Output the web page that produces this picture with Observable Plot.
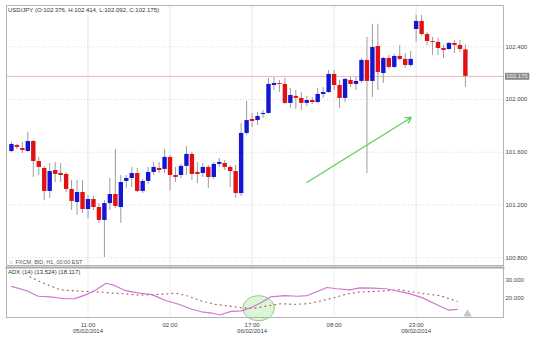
<!DOCTYPE html>
<html><head><meta charset="utf-8">
<script src="https://cdn.jsdelivr.net/npm/d3@7"></script>
<script src="https://cdn.jsdelivr.net/npm/@observablehq/plot@0.6"></script>
<style>
body{margin:0;background:#fff;}
#chart{width:533px;height:341px;overflow:hidden;background:#fff}
svg{display:block}
</style></head><body><div id="chart"></div>
<script>
// ---- data ----
const opens=[101.605,101.651,101.628,101.605,101.681,101.529,101.476,101.302,101.461,101.438,101.431,101.317,101.218,101.294,101.165,101.241,101.180,101.082,101.210,101.279,101.180,101.378,101.400,101.438,101.302,101.378,101.446,101.476,101.469,101.560,101.423,101.423,101.492,101.583,101.446,101.438,101.484,101.408,101.507,101.514,101.484,101.453,101.286,101.742,101.848,101.840,101.886,101.894,102.106,102.121,102.114,101.970,102.023,102.008,101.970,101.992,101.977,102.038,102.053,102.190,102.106,102.008,102.144,102.114,102.137,102.296,102.137,102.402,102.197,102.311,102.243,102.326,102.304,102.258,102.531,102.592,102.493,102.440,102.433,102.387,102.379,102.425,102.410,102.376];
const highs=[101.674,101.658,101.674,101.750,101.689,101.560,101.492,101.514,101.522,101.514,101.446,101.385,101.385,101.385,101.271,101.264,101.210,101.233,101.400,101.620,101.423,101.423,101.484,101.476,101.393,101.484,101.522,101.522,101.620,101.575,101.484,101.507,101.643,101.598,101.522,101.514,101.499,101.522,101.552,101.537,101.499,101.499,101.818,101.985,101.894,101.901,101.916,102.159,102.167,102.144,102.159,102.084,102.068,102.053,102.023,102.015,102.084,102.091,102.220,102.220,102.144,102.159,102.167,102.167,102.311,102.471,102.569,102.569,102.319,102.334,102.342,102.410,102.349,102.364,102.638,102.638,102.508,102.471,102.463,102.410,102.433,102.448,102.448,102.414];
const lows=[101.598,101.620,101.590,101.598,101.408,101.423,101.233,101.249,101.370,101.370,101.294,101.158,101.120,101.135,101.097,101.158,101.059,100.801,101.158,101.173,101.059,101.324,101.332,101.294,101.286,101.355,101.423,101.438,101.438,101.309,101.370,101.400,101.423,101.385,101.362,101.408,101.324,101.393,101.484,101.461,101.332,101.249,101.264,101.727,101.788,101.803,101.856,101.886,102.068,102.053,101.962,101.932,101.924,101.916,101.947,101.962,101.970,102.008,102.046,102.068,101.932,101.977,102.091,102.068,102.121,101.438,102.015,102.068,102.121,102.228,102.235,102.296,102.235,102.243,102.433,102.478,102.410,102.334,102.334,102.311,102.372,102.349,102.357,102.092];
const closes=[101.658,101.636,101.613,101.681,101.529,101.484,101.302,101.453,101.431,101.423,101.317,101.226,101.294,101.165,101.241,101.180,101.082,101.210,101.279,101.188,101.370,101.400,101.438,101.302,101.378,101.446,101.484,101.461,101.560,101.423,101.408,101.492,101.583,101.431,101.431,101.484,101.408,101.507,101.522,101.484,101.453,101.286,101.742,101.840,101.833,101.871,101.894,102.114,102.121,102.114,101.970,102.030,102.008,101.970,101.992,101.977,102.038,102.053,102.190,102.106,102.008,102.152,102.114,102.137,102.296,102.137,102.395,102.205,102.311,102.243,102.326,102.304,102.258,102.304,102.592,102.493,102.440,102.433,102.387,102.372,102.425,102.410,102.379,102.175];

const timeTicks=[14,29,44,59,74];
const timeLabels=["11:00\n05/02/2014","02:00","17:00\n06/02/2014","08:00","23:00\n09/02/2014"];
const priceTicks=[100.8,101.2,101.6,102.0,102.4];

const adxIdx=[0,2.8,4.9,7.1,9.8,11.6,13.7,15.5,17.3,18.5,20.9,23.3,25.7,28.2,30.6,33.0,34.8,36.6,38.1,40.2,42.0,43.8,45.6,47.4,49.9,52.3,54.1,55.9,57.7,59.5,61.9,63.7,66.1,68.5,70.3,72.8,75.2,77.6,80.0,81.5];
const adxVal=[26.4,24.0,20.9,20.5,19.5,19.6,21.8,24.5,28.2,27.3,24.0,22.7,21.8,18.5,16.4,13.6,12.2,11.5,10.4,12.4,12.7,14.5,17.3,20.5,21.3,20.9,21.3,23.6,25.8,25.1,24.5,25.6,25.5,25.1,24.0,22.4,20.0,16.4,13.1,13.524];
const sigIdx=[3.4,5.2,7.1,8.9,11.3,13.7,16.1,18.5,20.9,23.3,25.7,28.2,30.0,32.4,34.8,37.2,39.6,42.0,44.4,46.8,49.2,51.7,54.1,56.5,58.9,61.3,63.7,66.1,68.5,70.9,73.4,75.8,78.2,81.5];
const sigVal=[31.8,29.1,26.7,24.5,24.0,23.6,23.3,22.7,22.2,21.5,21.8,22.2,22.7,20.9,18.2,16.4,15.5,14.5,14.2,15.5,16.7,16.4,16.7,18.2,20.0,22.2,23.3,23.6,24.0,24.5,23.3,22.2,21.3,18.117];
const adxTicks=[20,30];

const arrowFrom=[54,101.37];
const arrowTo=[73.1,101.863];
const ellipseAt=[45.2,14.2];
const triangleAt=[83.4,10.9];

// ---- build ----
const fmt=d3.format(".3f");
const candles=opens.map((o,i)=>({i,o,h:highs[i],l:lows[i],c:closes[i]}));
const last=candles[candles.length-1];
const title=`USD/JPY (O:${fmt(last.o)}, H:${fmt(last.h)}, L:${fmt(last.l)}, C:${fmt(last.c)})`;
const adxPts=adxIdx.map((x,k)=>({x,y:adxVal[k]}));
const sigPts=sigIdx.map((x,k)=>({x,y:sigVal[k]}));
const adxTitle=`ADX (14) (${fmt(adxVal[adxVal.length-1])}) (${fmt(sigVal[sigVal.length-1])})`;
const font="'Liberation Sans', Arial, sans-serif";
const xDom=[-0.9,89.97];

const ellipseSymbol={draw(ctx,size){const r=Math.sqrt(size/Math.PI),rx=r*1.25,ry=r,k=0.5523;
 ctx.moveTo(rx,0);ctx.bezierCurveTo(rx,ry*k,rx*k,ry,0,ry);ctx.bezierCurveTo(-rx*k,ry,-rx,ry*k,-rx,0);
 ctx.bezierCurveTo(-rx,-ry*k,-rx*k,-ry,0,-ry);ctx.bezierCurveTo(rx*k,-ry,rx,-ry*k,rx,0);ctx.closePath();}};

const main=Plot.plot({
  width:533,height:266,marginLeft:6,marginRight:30,marginTop:5,marginBottom:1,
  style:{fontFamily:font,fontSize:"6px",color:"#444",background:"#fff",overflow:"visible"},
  x:{domain:xDom,axis:null,label:null},
  y:{domain:[100.74,102.713],axis:null,label:null},
  color:{type:"identity"},
  marks:[
    Plot.ruleY(priceTicks,{stroke:"#d8d8d8",strokeDasharray:"1,2"}),
    Plot.ruleX(timeTicks,{stroke:"#e6e6e6"}),
    Plot.ruleY([last.c],{stroke:"#ecb8b8"}),
    Plot.ruleX(candles,{x:"i",y1:"l",y2:"h",stroke:"#9c9c9c",strokeWidth:1}),
    Plot.ruleX(candles,{x:"i",y1:"o",y2:"c",stroke:d=>d.c>=d.o?"#1515d6":"#e21111",strokeWidth:4.4}),
    Plot.arrow([{a:arrowFrom,b:arrowTo}],{x1:d=>d.a[0],y1:d=>d.a[1],x2:d=>d.b[0],y2:d=>d.b[1],stroke:"#5fcf57",strokeWidth:1.3,headLength:7}),
    Plot.axisY(priceTicks,{anchor:"right",tickSize:0,tickPadding:2,tickFormat:fmt,fill:"#444"}),
    Plot.text([last.c],{y:d=>d,text:d=>fmt(d),frameAnchor:"right",dx:2.5,textAnchor:"start",fill:"#f2f2f2"}),
    Plot.text([title],{frameAnchor:"top-left",dx:1.5,dy:2,fill:"#333"}),
    Plot.text(["▹"],{frameAnchor:"bottom-left",dx:3,dy:-1.5,fill:"#aaa"}),
    Plot.text(["FXCM, BID, H1, 00:00 EST"],{frameAnchor:"bottom-left",dx:9,dy:-1.5,fill:"#555",fontSize:5.5}),
    Plot.frame({stroke:"#b4b4b4"})
  ]
});

const adx=Plot.plot({
  width:533,height:75,marginLeft:6,marginRight:30,marginTop:1,marginBottom:24,
  style:{fontFamily:font,fontSize:"6px",color:"#444",background:"#fff",overflow:"visible",position:"relative",zIndex:"2"},
  x:{domain:xDom,axis:null,label:null},
  y:{domain:[9,37],axis:null,label:null},
  marks:[
    Plot.ruleX(timeTicks,{stroke:"#efefef"}),
    Plot.dot([ellipseAt],{x:d=>d[0],y:d=>d[1],r:12.5,symbol:ellipseSymbol,fill:"#d6f3cf",fillOpacity:0.85,stroke:"#8ccb84",strokeWidth:1}),
    Plot.line(sigPts,{x:"x",y:"y",stroke:"#a85a5a",strokeWidth:1.2,strokeDasharray:"0.8,4.2",strokeLinecap:"round"}),
    Plot.line(adxPts,{x:"x",y:"y",stroke:"#d274d2",strokeWidth:1.2}),
    Plot.dot([triangleAt],{x:d=>d[0],y:d=>d[1],symbol:"triangle",r:3.2,fill:"#c8c8c8"}),
    Plot.axisX(timeTicks,{anchor:"bottom",tickSize:0,tickPadding:5,tickFormat:d=>timeLabels[timeTicks.indexOf(d)],fill:"#444"}),
    Plot.text(adxTicks,{y:d=>d,text:d=>fmt(d),frameAnchor:"right",dx:2,textAnchor:"start",fill:"#444"}),
    Plot.text([adxTitle],{frameAnchor:"top-left",dx:1.5,dy:2,fill:"#333"}),
    Plot.frame({stroke:"#b4b4b4"}),
    Plot.frame({anchor:"top",stroke:"#a8a8a8",strokeWidth:2})
  ]
});

const root=document.getElementById("chart");
root.appendChild(main);
root.appendChild(adx);

// gray tag behind the last-price label
for(const t of main.querySelectorAll("text")){
  if(t.textContent===fmt(last.c)){
    const b=t.getBBox();
    const r=document.createElementNS("http://www.w3.org/2000/svg","rect");
    r.setAttribute("x",b.x-1);r.setAttribute("y",b.y-0.5);
    r.setAttribute("width",b.width+2);r.setAttribute("height",b.height+1);
    r.setAttribute("fill","#8c8c8c");
    const tr=t.getAttribute("transform"); if(tr) r.setAttribute("transform",tr);
    t.parentNode.insertBefore(r,t);
  }
}
</script>
</body></html>
